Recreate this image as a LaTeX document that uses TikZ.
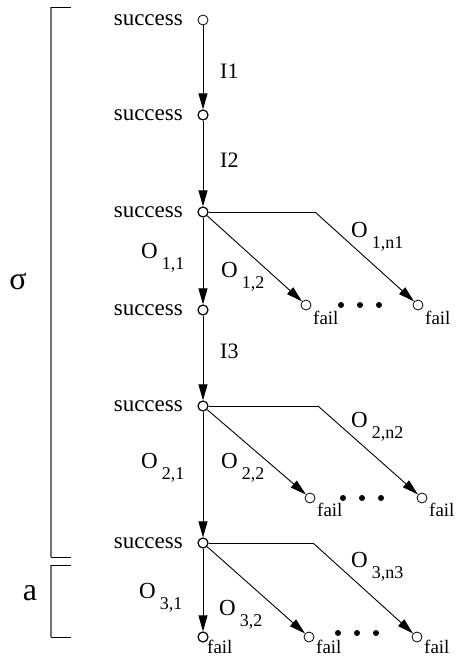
\documentclass[tikz,border=0pt]{standalone}
\usepackage{fontspec}
\setmainfont{Liberation Serif}
\usetikzlibrary{arrows.meta}
\newcommand{\olab}[1]{O\hspace{4pt}\raisebox{-11pt}{\fontsize{18}{18}\selectfont #1}}
\begin{document}
\begin{tikzpicture}[x=1pt,y=-1pt,
  st/.style={circle,draw,line width=1.2pt,fill=white,minimum size=10pt,inner sep=0pt},
  ft/.style={circle,draw,line width=0.8pt,fill=white,minimum size=10pt,inner sep=0pt},
  arr/.style={-{Triangle[length=16pt,width=9pt]},line width=0.9pt},
  ln/.style={line width=0.8pt},
  succ/.style={anchor=east,font=\fontsize{23}{23}\selectfont,inner sep=0pt},
  faillab/.style={anchor=base west,font=\fontsize{19}{19}\selectfont,inner sep=0pt},
  lab/.style={anchor=base west,font=\fontsize{22}{22}\selectfont,inner sep=0pt},
  olabel/.style={anchor=base west,font=\fontsize{23}{23}\selectfont,inner sep=0pt},
  bigl/.style={font=\fontsize{32}{32}\selectfont,inner sep=0pt},
  dotn/.style={circle,fill,minimum size=6pt,inner sep=0pt},
  brk/.style={line width=1.4pt,draw=black!55},
  brh/.style={line width=0.8pt}]
\useasboundingbox (0,0) rectangle (456,659);

% main column
\node[ft] (n1) at (203,20) {};
\node[st] (n2) at (203,115) {};
\node[st] (n3) at (203,212) {};
\node[st] (n4) at (203,310) {};
\node[st] (n5) at (203,406) {};
\node[st] (n6) at (203,543) {};
\node[st] (n7) at (203,637) {};

\foreach \n/\y in {n1/20,n2/115,n3/212,n4/310,n5/406,n6/543}
  \node[succ] (s\n) at (183,\y) {success};

% branch fails
\node[ft] (f1a) at (306,305) {};
\node[ft] (f1b) at (418,305) {};
\node[ft] (f2a) at (310,498) {};
\node[ft] (f2b) at (422,498) {};
\node[ft] (f3a) at (309,637) {};
\node[ft] (f3b) at (417,637) {};
\coordinate (c1) at (315,212);
\coordinate (c2) at (318,406);
\coordinate (c3) at (313,543);

% vertical edges
\draw[arr] (n1) -- (n2);
\draw[arr] (n2) -- (n3);
\draw[arr] (n3) -- (n4);
\draw[arr] (n4) -- (n5);
\draw[arr] (n5) -- (n6);
\draw[arr] (n6) -- (n7);

% branches
\draw[arr] (n3) -- (f1a);
\draw[ln] (n3) -- (c1);
\draw[arr] (c1) -- (f1b);
\draw[arr] (n5) -- (f2a);
\draw[ln] (n5) -- (c2);
\draw[arr] (c2) -- (f2b);
\draw[arr] (n6) -- (f3a);
\draw[ln] (n6) -- (c3);
\draw[arr] (c3) -- (f3b);

% dots
\foreach \i/\x/\y in {1/341/305,2/360/305,3/379/305,4/343/498,5/362/498,6/381/498,7/338/633,8/357/633,9/376/633}
  \node[dotn] (d\i) at (\x,\y) {};

% fail labels
\node[faillab] (lf1a) at (313,324) {fail};
\node[faillab] (lf1b) at (425,324) {fail};
\node[faillab] (lf2a) at (317,516) {fail};
\node[faillab] (lf2b) at (429,516) {fail};
\node[faillab] (lf3a) at (316,653) {fail};
\node[faillab] (lf3b) at (424,653) {fail};
\node[faillab] (lf7) at (207,653) {fail};

% I labels
\node[lab] (i1) at (220,78) {I1};
\node[lab] (i2) at (220,167) {I2};
\node[lab] (i3) at (220,358) {I3};

% O labels
\node[olabel] (o11) at (141,258) {\olab{1,1}};
\node[olabel] (o12) at (221,277) {\olab{1,2}};
\node[olabel] (o1n) at (351,237) {\olab{1,n1}};
\node[olabel] (o21) at (141,468) {\olab{2,1}};
\node[olabel] (o22) at (221,468) {\olab{2,2}};
\node[olabel] (o2n) at (351,427) {\olab{2,n2}};
\node[olabel] (o31) at (139,598) {\olab{3,1}};
\node[olabel] (o32) at (219,615) {\olab{3,2}};
\node[olabel] (o3n) at (351,567) {\olab{3,n3}};

% brackets
\coordinate (b1t) at (51,7);
\coordinate (b1b) at (51,557);
\coordinate (b2t) at (51,565);
\coordinate (b2b) at (51,637);
\draw[brk] (b1t) -- (b1b);
\draw[brk] (b2t) -- (b2b);
\draw[brh] (b1t) -- ++(20,0);
\draw[brh] (b1b) -- ++(20,0);
\draw[brh] (b2t) -- ++(20,0);
\draw[brh] (b2b) -- ++(20,0);
\node[bigl] (sig) at (18,281) {σ};
\node[bigl] (alab) at (30,593) {a};
\end{tikzpicture}
\end{document}
